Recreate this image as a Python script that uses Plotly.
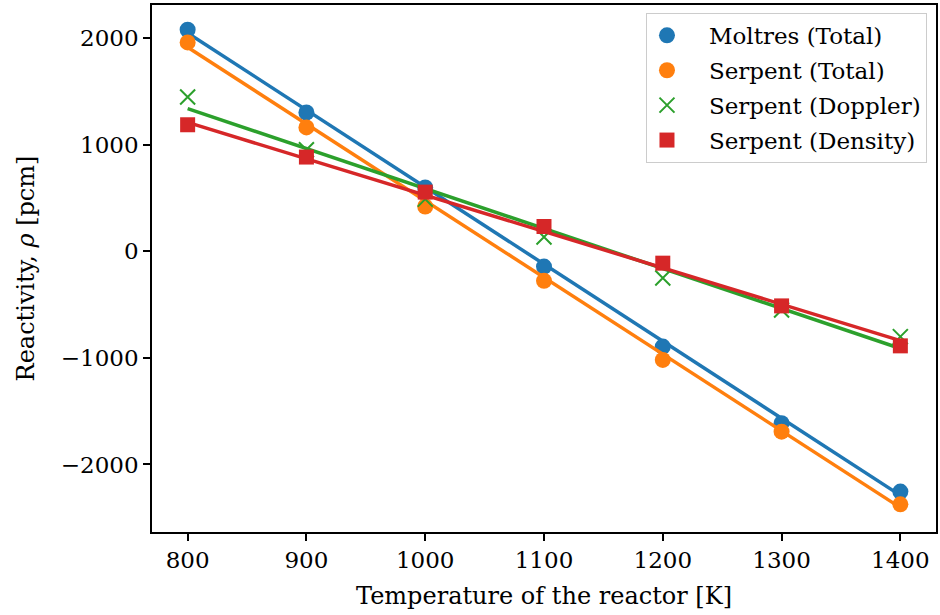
import plotly.graph_objects as go

# Temperatures [K]
temperature = [800, 900, 1000, 1100, 1200, 1300, 1400]

# Reactivity markers [pcm]
moltres_total = [2080, 1303, 600, -143, -894, -1613, -2255]
serpent_total = [1961, 1163, 421, -277, -1019, -1692, -2374]
serpent_doppler = [1448, 953, 490, 135, -250, -550, -800]
serpent_density = [1188, 885, 556, 233, -111, -512, -887]

# Linear-fit line end points at 800 K and 1400 K
fit_x = [800, 1400]
moltres_total_fit = [2050, -2290]
serpent_total_fit = [1915, -2405]
serpent_doppler_fit = [1340, -912]
serpent_density_fit = [1210, -838]

series = [
    ("Moltres (Total)", moltres_total, moltres_total_fit, "#1f77b4", "circle"),
    ("Serpent (Total)", serpent_total, serpent_total_fit, "#ff7f0e", "circle"),
    ("Serpent (Doppler)", serpent_doppler, serpent_doppler_fit, "#2ca02c", "x-thin-open"),
    ("Serpent (Density)", serpent_density, serpent_density_fit, "#d62728", "square"),
]

FONT = "DejaVu Serif"
PAD = "\u00a0\u00a0\u00a0"
fig = go.Figure()
for i, (name, vals, fit, color, sym) in enumerate(series):
    fig.add_trace(go.Scatter(
        x=fit_x, y=fit, mode="lines", line=dict(color=color, width=3.5),
        showlegend=False, hoverinfo="skip", legendgroup=f"g{i}"))
    if sym == "x-thin-open":
        marker = dict(symbol=sym, size=15, color=color, line=dict(color=color, width=2))
    elif sym == "square":
        marker = dict(symbol=sym, size=15, color=color, line=dict(width=0))
    else:
        marker = dict(symbol=sym, size=16, color=color, line=dict(width=0))
    fig.add_trace(go.Scatter(
        x=temperature, y=vals, mode="markers", name=PAD + name, marker=marker,
        legendgroup=f"g{i}"))

fig.update_layout(
    width=940, height=615,
    margin=dict(l=152, r=2, t=5, b=83),
    paper_bgcolor="white", plot_bgcolor="white",
    font=dict(family=FONT, size=23, color="black"),
    showlegend=True,
    legend=dict(
        x=0.9885, y=0.985, xanchor="right", yanchor="top",
        bgcolor="rgba(255,255,255,0.8)", bordercolor="#cccccc", borderwidth=1,
        font=dict(family=FONT, size=23),
        tracegroupgap=2, itemsizing="trace",
    ),
    xaxis=dict(
        range=[770, 1430], tickvals=temperature,
        ticktext=[str(t) for t in temperature],
        showgrid=False, zeroline=False,
        showline=True, mirror=True, linecolor="black", linewidth=1.5,
        ticks="outside", ticklen=7, tickwidth=1.5, tickcolor="black",
        title=dict(text="Temperature of the reactor [K]", standoff=15,
                   font=dict(family=FONT, size=24)),
        tickfont=dict(family=FONT, size=23),
    ),
    yaxis=dict(
        range=[-2634, 2312], tickvals=[-2000, -1000, 0, 1000, 2000],
        ticktext=["\u22122000", "\u22121000", "0", "1000", "2000"],
        showgrid=False, zeroline=False,
        showline=True, mirror=True, linecolor="black", linewidth=1.5,
        ticks="outside", ticklen=7, tickwidth=1.5, tickcolor="black",
        title=dict(text="Reactivity, <i>\u03c1</i> [pcm]", standoff=19,
                   font=dict(family=FONT, size=24)),
        tickfont=dict(family=FONT, size=23),
    ),
)

fig.write_html("out.html", config={"displayModeBar": False},
               post_script="document.body.style.margin='0';")
